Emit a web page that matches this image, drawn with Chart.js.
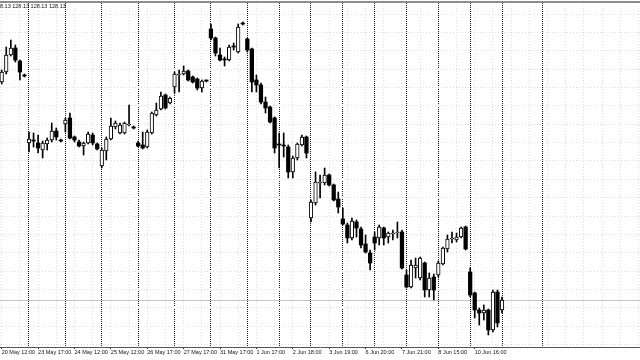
<!DOCTYPE html>
<html>
<head>
<meta charset="utf-8">
<title>Candles</title>
<script src="https://cdn.jsdelivr.net/npm/chart.js@4.4.1/dist/chart.umd.min.js"></script>
<style>
  html, body { margin: 0; padding: 0; background: #fff; }
  #wrap { position: relative; width: 640px; height: 360px; overflow: hidden; }
</style>
</head>
<body>
<div id="wrap"><canvas id="chart" width="640" height="360"></canvas></div>
<script>
/* ── Bars (one per period, left to right) ─────────────────── */
const opens = [
  130.31, 130.41, 130.58, 130.65, 130.52, 130.38, 129.70, 129.73, 129.70, 129.63,
  129.69, 129.73, 129.82, 129.73, 129.89, 129.95, 129.76, 129.71, 129.67, 129.70,
  129.78, 129.69, 129.47, 129.62, 129.74, 129.86, 129.80, 129.80, 129.88, 129.86,
  129.70, 129.68, 129.66, 129.80, 129.98, 130.04, 130.18, 130.10, 130.26, 130.38,
  130.39, 130.42, 130.36, 130.34, 130.25, 130.33, 130.84, 130.75, 130.58, 130.54,
  130.53, 130.67, 130.61, 130.90, 130.74, 130.64, 130.33, 130.28, 130.11, 130.06,
  129.95, 129.69, 129.68, 129.66, 129.41, 129.55, 129.68, 129.76, 128.95, 129.10,
  129.30, 129.30, 129.38, 129.28, 129.14, 128.94, 128.88, 128.75, 128.91, 128.84,
  128.69, 128.60, 128.76, 128.75, 128.85, 128.76, 128.79, 128.80, 128.81, 128.38,
  128.26, 128.45, 128.35, 128.50, 128.23, 128.36, 128.38, 128.49, 128.64, 128.74,
  128.73, 128.76, 128.86, 128.41, 128.20, 128.03, 128.00, 128.03, 127.83, 128.21,
  128.03
];
const highs = [
  130.43, 130.66, 130.73, 130.68, 130.53, 130.39, 129.81, 129.80, 129.78, 129.72,
  129.75, 129.90, 129.85, 129.74, 129.95, 130.00, 129.77, 129.73, 129.71, 129.81,
  129.80, 129.70, 129.65, 129.76, 129.95, 129.92, 129.90, 129.91, 130.08, 129.87,
  129.72, 129.81, 129.83, 130.01, 130.10, 130.21, 130.19, 130.16, 130.41, 130.43,
  130.47, 130.43, 130.37, 130.35, 130.33, 130.33, 130.89, 130.76, 130.65, 130.56,
  130.68, 130.70, 130.89, 130.91, 130.75, 130.65, 130.38, 130.30, 130.16, 130.07,
  129.96, 129.80, 129.80, 129.68, 129.57, 129.70, 129.78, 129.77, 129.13, 129.41,
  129.38, 129.45, 129.39, 129.29, 129.21, 129.05, 128.90, 128.95, 128.93, 128.86,
  128.78, 128.63, 128.81, 128.88, 128.86, 128.81, 128.83, 128.91, 128.83, 128.43,
  128.53, 128.55, 128.56, 128.51, 128.40, 128.39, 128.52, 128.66, 128.78, 128.81,
  128.80, 128.86, 128.87, 128.45, 128.21, 128.05, 128.08, 128.04, 128.23, 128.23,
  128.16
];
const lows = [
  130.29, 130.39, 130.57, 130.51, 130.33, 130.36, 129.61, 129.66, 129.60, 129.55,
  129.63, 129.71, 129.73, 129.71, 129.81, 129.74, 129.71, 129.66, 129.58, 129.69,
  129.68, 129.63, 129.45, 129.53, 129.73, 129.84, 129.79, 129.79, 129.87, 129.84,
  129.66, 129.64, 129.65, 129.79, 129.97, 130.03, 130.04, 130.09, 130.20, 130.21,
  130.38, 130.32, 130.30, 130.23, 130.21, 130.31, 130.73, 130.57, 130.52, 130.47,
  130.52, 130.63, 130.60, 130.88, 130.61, 130.21, 130.21, 130.09, 130.00, 129.90,
  129.60, 129.45, 129.56, 129.35, 129.35, 129.53, 129.67, 129.55, 128.91, 129.08,
  129.15, 129.28, 129.27, 129.12, 129.00, 128.88, 128.70, 128.73, 128.76, 128.65,
  128.60, 128.43, 128.63, 128.68, 128.68, 128.70, 128.73, 128.75, 128.44, 128.25,
  128.25, 128.35, 128.33, 128.16, 128.16, 128.13, 128.36, 128.48, 128.61, 128.70,
  128.71, 128.75, 128.63, 128.16, 127.95, 127.88, 127.93, 127.78, 127.81, 127.86,
  128.00
];
const closes = [
  130.41, 130.58, 130.65, 130.53, 130.41, 130.37, 129.74, 129.72, 129.65, 129.70,
  129.73, 129.82, 129.76, 129.72, 129.93, 129.75, 129.73, 129.67, 129.70, 129.79,
  129.70, 129.64, 129.63, 129.74, 129.87, 129.90, 129.88, 129.90, 129.89, 129.85,
  129.67, 129.65, 129.81, 130.00, 130.03, 130.17, 130.05, 130.15, 130.39, 130.39,
  130.42, 130.33, 130.31, 130.25, 130.32, 130.32, 130.75, 130.60, 130.53, 130.53,
  130.66, 130.66, 130.86, 130.89, 130.63, 130.31, 130.28, 130.11, 130.05, 129.91,
  129.65, 129.68, 129.67, 129.41, 129.55, 129.69, 129.76, 129.60, 129.11, 129.31,
  129.31, 129.38, 129.28, 129.13, 129.06, 128.89, 128.75, 128.92, 128.85, 128.68,
  128.61, 128.50, 128.70, 128.86, 128.75, 128.80, 128.80, 128.81, 128.45, 128.26,
  128.48, 128.48, 128.55, 128.23, 128.35, 128.23, 128.50, 128.65, 128.74, 128.75,
  128.76, 128.85, 128.64, 128.18, 128.03, 128.00, 128.03, 127.83, 128.21, 127.90,
  128.13
];

/* ── Time axis ──────────────────────────────────────────── */
const timeLabels = [
  '20 May 12:00', '23 May 17:00', '24 May 12:00', '25 May 12:00', '26 May 17:00',
  '27 May 17:00', '31 May 17:00', '1 Jun 17:00', '2 Jun 18:00', '3 Jun 19:00',
  '6 Jun 20:00', '7 Jun 21:00', '8 Jun 15:00', '10 Jun 16:00'
];
const labelBars = [0, 8, 16, 24, 32, 40, 48, 56, 64, 72, 80, 88, 96, 104];
// day separators (bar index where a new day starts)
const sepBars = [6, 14, 22, 30, 38, 46, 54, 61, 68, 75, 82, 89, 96, 103, 110, 119];

const BID = 128.13;
const headerText = '8.13 128.13 128.13 128.13';

/* ── View window ────────────────────────────────────────── */
const X_MIN = -0.376, X_MAX = 140.34;
const Y_MIN = 127.66, Y_MAX = 131.11;
const GRID_FROM = 127.685, GRID_STEP = 0.1835;
const FONT = '"Liberation Sans", Arial, sans-serif';

/* ── Datasets ───────────────────────────────────────────── */
const idx = opens.map((_, i) => i);
const upData = idx.filter(i => closes[i] >= opens[i]).map(i => ({ x: i, y: [opens[i], closes[i]] }));
const downData = idx.filter(i => closes[i] < opens[i]).map(i => ({ x: i, y: [opens[i], closes[i]] }));
const wickData = idx.map(i => ({ x: i, y: [lows[i], highs[i]] }));

const gridBars = [];
for (let v = 0; v <= X_MAX; v += 4) gridBars.push(v);

/* ── Small plugins ──────────────────────────────────────── */
const bidLine = {
  id: 'bidLine',
  beforeDatasetsDraw(chart) {
    const { ctx, chartArea, scales: { y } } = chart;
    const py = Math.round(y.getPixelForValue(BID)) + 0.5;
    ctx.save();
    ctx.strokeStyle = '#c6c6c6';
    ctx.lineWidth = 1;
    ctx.beginPath();
    ctx.moveTo(chartArea.left, py);
    ctx.lineTo(chartArea.right, py);
    ctx.stroke();
    ctx.restore();
  }
};

const header = {
  id: 'header',
  afterDraw(chart) {
    const { ctx } = chart;
    ctx.save();
    ctx.font = '5.5px ' + FONT;
    ctx.fillStyle = '#111';
    ctx.textBaseline = 'top';
    ctx.fillText(headerText, 0, 3.5);
    ctx.restore();
  }
};

/* ── Chart ──────────────────────────────────────────────── */
new Chart(document.getElementById('chart').getContext('2d'), {
  type: 'bar',
  data: {
    datasets: [
      { label: 'Up', data: upData, backgroundColor: '#fff', borderColor: '#000', borderWidth: 1,
        borderSkipped: false, barThickness: 3.6, minBarLength: 1, grouped: false },
      { label: 'Down', data: downData, backgroundColor: '#000', borderColor: '#000', borderWidth: 0,
        borderSkipped: false, barThickness: 3.6, minBarLength: 1, grouped: false },
      { label: 'Range', data: wickData, backgroundColor: '#000', borderWidth: 0,
        barThickness: 1, grouped: false }
    ]
  },
  options: {
    responsive: false,
    animation: false,
    devicePixelRatio: 1,
    layout: { padding: { top: 2, bottom: 4.4, left: 0, right: 0 } },
    plugins: { legend: { display: false }, tooltip: { enabled: false } },
    scales: {
      x: {
        type: 'linear', position: 'bottom', min: X_MIN, max: X_MAX, offset: false,
        afterBuildTicks: axis => { axis.ticks = gridBars.map(v => ({ value: v })); },
        grid: {
          offset: false, color: '#dedede', lineWidth: 1, drawTicks: true, tickLength: 2,
          tickColor: c => (c.tick && labelBars.includes(c.tick.value)) ? '#222' : 'rgba(0,0,0,0)'
        },
        border: { display: true, color: '#555', width: 1, dash: [1, 2] },
        ticks: {
          autoSkip: false, maxRotation: 0, minRotation: 0, align: 'start', padding: 0,
          color: '#111', font: { family: FONT, size: 5.5 },
          callback: v => { const k = labelBars.indexOf(v); return k < 0 ? '' : timeLabels[k]; }
        }
      },
      sep: {
        type: 'linear', position: 'top', min: X_MIN, max: X_MAX, offset: false,
        afterBuildTicks: axis => { axis.ticks = sepBars.map(v => ({ value: v })); },
        grid: { offset: false, color: '#1a1a1a', lineWidth: 1, drawTicks: false },
        border: { display: true, color: '#8c8c8c', width: 2, dash: [1, 1] },
        ticks: { display: false }
      },
      y: {
        type: 'linear', min: Y_MIN, max: Y_MAX, beginAtZero: false,
        afterBuildTicks: axis => {
          const t = [];
          for (let v = GRID_FROM; v <= axis.max; v += GRID_STEP) t.push({ value: v });
          axis.ticks = t;
        },
        grid: { color: '#dedede', drawTicks: false },
        border: { display: false, dash: [1, 2] },
        ticks: { display: false }
      }
    }
  },
  plugins: [bidLine, header]
});
</script>
</body>
</html>
